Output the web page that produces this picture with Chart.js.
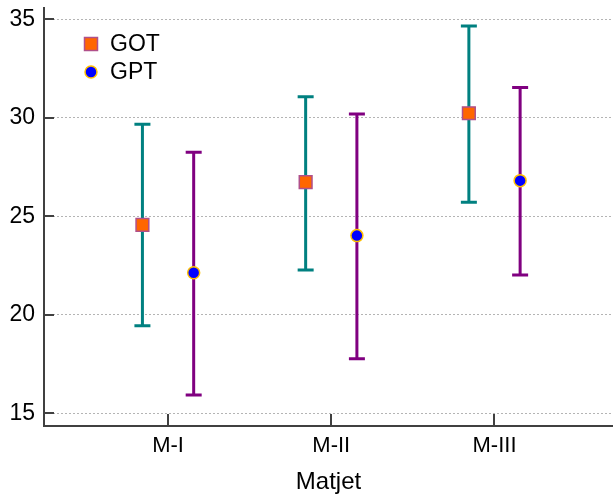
<!DOCTYPE html>
<html lang="en">
<head>
    <meta charset="UTF-8">
    <title>GOT / GPT</title>
    <style>
        html, body { margin: 0; padding: 0; background: #fff; }
        #wrap { width: 613px; height: 499px; }
    </style>
    <script src="https://cdn.jsdelivr.net/npm/chart.js"></script>
</head>
<body>
    <div id="wrap"><canvas id="errChart" width="613" height="499"></canvas></div>

    <script>
        // values
        const groups = ['M-I', 'M-II', 'M-III'];
        const groupTicks = [1, 2, 3];
        const yTicks = [15, 20, 25, 30, 35];

        const gotX = [0.843, 1.843, 2.843];
        const gotMean = [24.56, 26.73, 30.23];
        const gotLow = [19.45, 22.27, 25.71];
        const gotHigh = [29.67, 31.07, 34.66];

        const gptX = [1.157, 2.157, 3.157];
        const gptMean = [22.14, 24.02, 26.81];
        const gptLow = [15.93, 17.77, 22.02];
        const gptHigh = [28.25, 30.19, 31.53];

        const FONT = "'Liberation Sans', Arial, sans-serif";

        function toPoints(xs, ys, lo, hi) {
            return xs.map((x, i) => ({ x: x, y: ys[i], lo: lo[i], hi: hi[i] }));
        }

        // error bars, inward tick marks and the legend
        const errorBars = {
            id: 'errorBars',
            beforeDatasetsDraw(chart) {
                const ctx = chart.ctx;
                const xs = chart.scales.x, ys = chart.scales.y;
                chart.data.datasets.forEach(ds => {
                    ctx.save();
                    ctx.strokeStyle = ds.barColor;
                    ctx.lineWidth = 3;
                    ds.data.forEach(p => {
                        const px = xs.getPixelForValue(p.x);
                        const top = ys.getPixelForValue(p.hi);
                        const bot = ys.getPixelForValue(p.lo);
                        ctx.beginPath();
                        ctx.moveTo(px, top);
                        ctx.lineTo(px, bot);
                        ctx.moveTo(px - 8, top);
                        ctx.lineTo(px + 8, top);
                        ctx.moveTo(px - 8, bot);
                        ctx.lineTo(px + 8, bot);
                        ctx.stroke();
                    });
                    ctx.restore();
                });
            },
            afterDraw(chart) {
                const ctx = chart.ctx;
                const area = chart.chartArea;
                const xs = chart.scales.x, ys = chart.scales.y;
                ctx.save();
                ctx.strokeStyle = '#404040';
                ctx.lineWidth = 2;
                ctx.beginPath();
                yTicks.forEach(v => {
                    const py = Math.round(ys.getPixelForValue(v));
                    ctx.moveTo(area.left, py);
                    ctx.lineTo(area.left + 10, py);
                });
                groupTicks.forEach(v => {
                    const px = Math.round(xs.getPixelForValue(v));
                    ctx.moveTo(px, area.bottom);
                    ctx.lineTo(px, area.bottom - 12);
                });
                ctx.stroke();

                // legend
                let ly = 44;
                chart.data.datasets.forEach(ds => {
                    const mx = 91;
                    ctx.fillStyle = ds.backgroundColor;
                    ctx.strokeStyle = ds.borderColor;
                    ctx.lineWidth = 1.5;
                    if (ds.pointStyle === 'rect') {
                        ctx.fillRect(mx - 6.5, ly - 6.5, 13, 13);
                        ctx.strokeRect(mx - 6.5, ly - 6.5, 13, 13);
                    } else {
                        ctx.beginPath();
                        ctx.arc(mx, ly, 6, 0, Math.PI * 2);
                        ctx.fill();
                        ctx.stroke();
                    }
                    ctx.fillStyle = '#000';
                    ctx.font = '23px ' + FONT;
                    ctx.textBaseline = 'middle';
                    ctx.textAlign = 'left';
                    ctx.fillText(ds.label, 110, ly + 1);
                    ly += 28;
                });
                ctx.restore();
            }
        };

        new Chart(document.getElementById('errChart'), {
            type: 'scatter',
            data: {
                datasets: [
                    {
                        label: 'GOT',
                        data: toPoints(gotX, gotMean, gotLow, gotHigh),
                        pointStyle: 'rect',
                        pointRadius: 9,
                        backgroundColor: '#ff6600',
                        borderColor: '#b0508a',
                        borderWidth: 1.5,
                        barColor: '#008080'
                    },
                    {
                        label: 'GPT',
                        data: toPoints(gptX, gptMean, gptLow, gptHigh),
                        pointStyle: 'circle',
                        pointRadius: 6,
                        backgroundColor: '#0000ff',
                        borderColor: '#ffc000',
                        borderWidth: 1.5,
                        barColor: '#800080'
                    }
                ]
            },
            options: {
                responsive: false,
                animation: false,
                layout: { autoPadding: false, padding: { left: 0, top: 8, right: 0, bottom: 0 } },
                plugins: {
                    legend: { display: false },
                    tooltip: { enabled: false }
                },
                scales: {
                    x: {
                        type: 'linear',
                        min: 0.24,
                        max: 3.726,
                        afterBuildTicks: axis => { axis.ticks = groupTicks.map(v => ({ value: v })); },
                        afterFit: s => { s.height = 73; s.paddingLeft = 0; s.paddingRight = 0; },
                        ticks: {
                            callback: (v) => groups[groupTicks.indexOf(v)] || '',
                            color: '#000',
                            padding: 7,
                            maxRotation: 0,
                            font: { family: FONT, size: 22 }
                        },
                        grid: { display: false, drawTicks: false },
                        border: { display: true, color: '#404040', width: 2 },
                        title: {
                            display: true,
                            text: 'Matjet',
                            color: '#000',
                            padding: { top: 4, bottom: 2 },
                            font: { family: FONT, size: 24 }
                        }
                    },
                    y: {
                        min: 14.36,
                        max: 35.57,
                        afterBuildTicks: axis => { axis.ticks = yTicks.map(v => ({ value: v })); },
                        afterFit: s => { s.width = 44; s.paddingTop = 0; s.paddingBottom = 0; },
                        ticks: {
                            color: '#000',
                            padding: 9,
                            font: { family: FONT, size: 23 }
                        },
                        grid: {
                            color: '#b4b4b4',
                            lineWidth: 1,
                            drawTicks: false
                        },
                        border: { display: true, color: '#404040', width: 2, dash: [2, 2] }
                    }
                }
            },
            plugins: [errorBars]
        });
    </script>
</body>
</html>
